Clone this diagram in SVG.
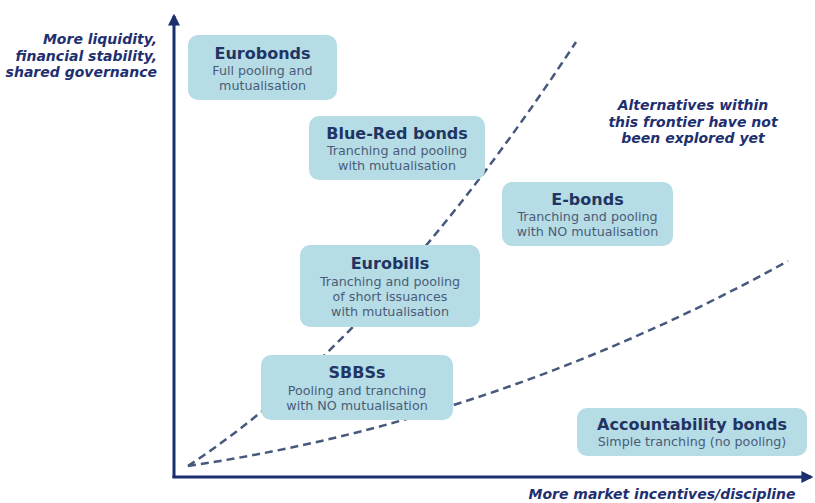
<svg xmlns="http://www.w3.org/2000/svg" width="815" height="503" viewBox="0 0 815 503">
<defs>
<marker id="ah" viewBox="0 0 10 10" refX="8" refY="5" markerWidth="4" markerHeight="4" orient="auto" markerUnits="strokeWidth">
<path d="M0,0 L10,5 L0,10 z" fill="#1b2f6e"/>
</marker>
<style>
.box{fill:#b6dce6;}
.t{font-family:"DejaVu Sans",Verdana,sans-serif;font-weight:bold;font-size:16px;fill:#1f3563;text-anchor:middle;}
.s{font-family:"DejaVu Sans",Verdana,sans-serif;font-size:12.7px;fill:#4a5d78;text-anchor:middle;}
.lab{font-family:"DejaVu Sans",Verdana,sans-serif;font-weight:bold;font-style:italic;font-size:14px;fill:#1f3070;}
.dash{fill:none;stroke:#46597c;stroke-width:2.5;stroke-dasharray:8 5;}
.axis{fill:none;stroke:#1b2f6e;stroke-width:3;}
</style>
</defs>
<rect width="815" height="503" fill="#ffffff"/>
<g id="axes">
<line class="axis" x1="174" y1="478" x2="174" y2="16" marker-end="url(#ah)"/>
<line class="axis" x1="172.5" y1="477" x2="811" y2="477" marker-end="url(#ah)"/>
</g>
<g id="connectors">
<path class="dash" d="M188,466 Q380,340 576,42"/>
<path class="dash" d="M188,466 Q500,420 788,261"/>
</g>
<g id="labels">
<text class="lab" text-anchor="end" x="157" y="44">More liquidity,</text>
<text class="lab" text-anchor="end" x="157" y="61">financial stability,</text>
<text class="lab" text-anchor="end" x="157" y="77">shared governance</text>
<text class="lab" text-anchor="middle" x="693" y="110">Alternatives within</text>
<text class="lab" text-anchor="middle" x="693" y="127">this frontier have not</text>
<text class="lab" text-anchor="middle" x="693" y="143">been explored yet</text>
<text class="lab" text-anchor="middle" x="662" y="499">More market incentives/discipline</text>
</g>
<g id="eurobonds">
<rect class="box" x="188" y="35" width="149" height="65" rx="10"/>
<text class="t" x="262.5" y="59">Eurobonds</text>
<text class="s" x="262.5" y="75">Full pooling and</text>
<text class="s" x="262.5" y="90">mutualisation</text>
</g>
<g id="bluered">
<rect class="box" x="309" y="116" width="176" height="64" rx="10"/>
<text class="t" x="397" y="139">Blue-Red bonds</text>
<text class="s" x="397" y="155">Tranching and pooling</text>
<text class="s" x="397" y="170">with mutualisation</text>
</g>
<g id="ebonds">
<rect class="box" x="502" y="182" width="171" height="64" rx="10"/>
<text class="t" x="587.5" y="205">E-bonds</text>
<text class="s" x="587.5" y="221">Tranching and pooling</text>
<text class="s" x="587.5" y="236">with NO mutualisation</text>
</g>
<g id="eurobills">
<rect class="box" x="300" y="245" width="180" height="82" rx="10"/>
<text class="t" x="390" y="269">Eurobills</text>
<text class="s" x="390" y="286">Tranching and pooling</text>
<text class="s" x="390" y="301">of short issuances</text>
<text class="s" x="390" y="316">with mutualisation</text>
</g>
<g id="sbbs">
<rect class="box" x="261" y="355" width="192" height="65" rx="10"/>
<text class="t" x="357" y="378">SBBSs</text>
<text class="s" x="357" y="395">Pooling and tranching</text>
<text class="s" x="357" y="410">with NO mutualisation</text>
</g>
<g id="accountability">
<rect class="box" x="577" y="408" width="230" height="48" rx="10"/>
<text class="t" x="692" y="430">Accountability bonds</text>
<text class="s" x="692" y="446">Simple tranching (no pooling)</text>
</g>
</svg>
